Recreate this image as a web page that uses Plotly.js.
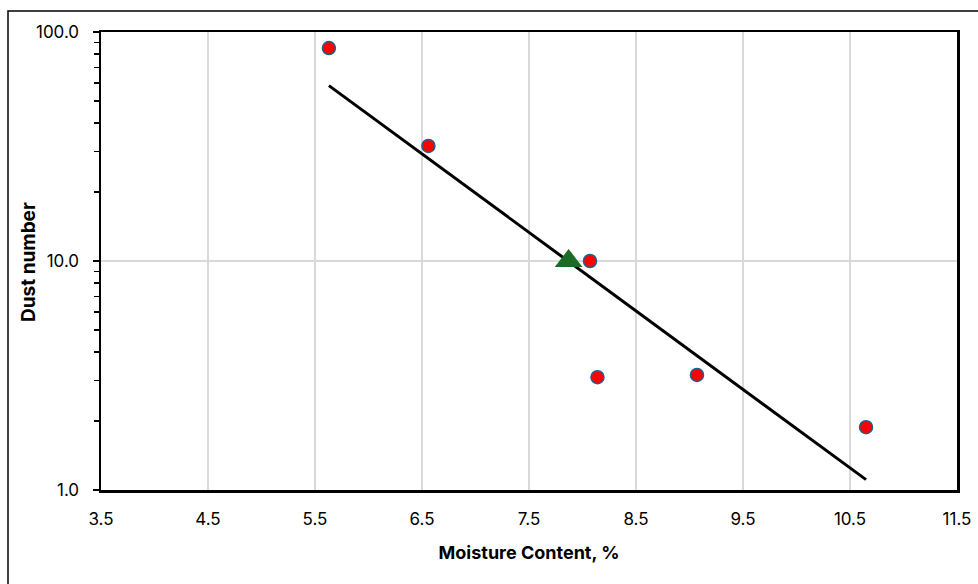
<!DOCTYPE html>
<html>
<head>
<meta charset="utf-8">
<script src="https://cdn.plot.ly/plotly-3.0.1.min.js"></script>
<style>html,body{margin:0;padding:0;background:#fff;}#chart{width:978px;height:584px;}</style>
</head>
<body>
<div id="chart"></div>
<script>
// Measured data points
var moisture = [5.63, 6.56, 8.07, 8.14, 9.07, 10.65];
var dustNumber = [85.1, 31.8, 10.0, 3.11, 3.18, 1.88];
// Highlighted point (triangle)
var targetMoisture = [7.87];
var targetDust = [10.0];
// Exponential trendline endpoints
var trendX = [5.63, 10.65];
var trendY = [58.3, 1.11];
// Tick labels
var xTicks = [3.5, 4.5, 5.5, 6.5, 7.5, 8.5, 9.5, 10.5, 11.5];
var yTicks = [1, 10, 100];
var xTitle = 'Moisture Content, %';
var yTitle = 'Dust number';

var font = "Inter, 'Open Sans', 'Liberation Sans', sans-serif";

var data = [
  {x: trendX, y: trendY, mode: 'lines', type: 'scatter',
   line: {color: '#000000', width: 3}, hoverinfo: 'skip'},
  {x: moisture, y: dustNumber, mode: 'markers', type: 'scatter',
   marker: {symbol: 'circle', size: 13, color: '#ff0000', line: {color: '#1f5f8b', width: 1.5}}},
  {x: targetMoisture, y: targetDust, mode: 'markers', type: 'scatter',
   marker: {symbol: 'triangle-up', size: 24, color: '#1b6b24', line: {width: 0}}}
];

var layout = {
  width: 978, height: 584,
  margin: {l: 101, r: 21, t: 32, b: 94},
  paper_bgcolor: '#ffffff', plot_bgcolor: '#ffffff',
  showlegend: false,
  font: {family: font, size: 17, color: '#000'},
  xaxis: {
    range: [3.5, 11.5], tickvals: xTicks, ticktext: xTicks.map(function(v){return v.toFixed(1);}),
    showgrid: true, gridcolor: '#d9d9d9', gridwidth: 1.5,
    showline: true, linecolor: '#000', linewidth: 2.5, mirror: true,
    ticks: '', ticklabelstandoff: 12, zeroline: false,
    tickfont: {family: font, size: 17},
    title: {text: '<b>' + xTitle + '</b>', font: {family: font, size: 18}, standoff: 19}
  },
  yaxis: {
    type: 'log', range: [0, 2], tickvals: yTicks, ticktext: yTicks.map(function(v){return v.toFixed(1);}),
    showgrid: true, gridcolor: '#d9d9d9', gridwidth: 1.5,
    showline: true, linecolor: '#000', linewidth: 2.5, mirror: true,
    ticks: 'outside', ticklen: 6, tickwidth: 1.5, tickcolor: '#000',
    minor: {ticks: 'outside', ticklen: 5, tickwidth: 1.5, tickcolor: '#000', dtick: 'D1', showgrid: false},
    ticklabelstandoff: 10, zeroline: false,
    tickfont: {family: font, size: 17}
  },
  annotations: [
    {text: '<b>' + yTitle + '</b>', xref: 'paper', yref: 'paper',
     x: (28 - 101) / 856, y: (490 - 262) / 458, xanchor: 'center', yanchor: 'middle',
     textangle: -90, showarrow: false, font: {family: font, size: 19, color: '#000'}}
  ],
  shapes: [
    {type: 'rect', xref: 'paper', yref: 'paper',
     x0: (8 - 101) / 856, x1: (995 - 101) / 856,
     y0: (490 - 600) / 458, y1: (490 - 11) / 458,
     line: {color: '#000', width: 1.5}, fillcolor: 'rgba(0,0,0,0)', layer: 'below'}
  ]
};

Plotly.newPlot('chart', data, layout, {displayModeBar: false, staticPlot: true});
</script>
</body>
</html>
